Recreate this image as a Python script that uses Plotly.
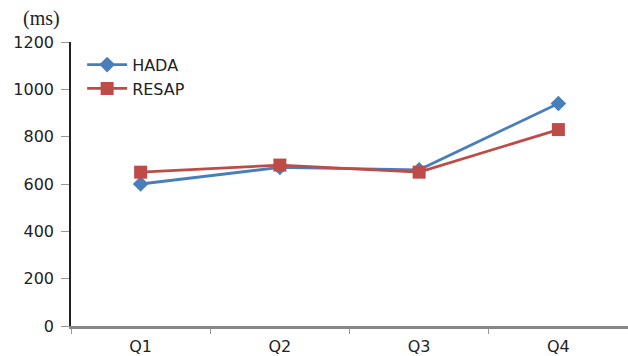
import plotly.graph_objects as go

quarters = ["Q1", "Q2", "Q3", "Q4"]
hada = [600, 670, 660, 940]
resap = [650, 680, 650, 830]
y_ticks = [0, 200, 400, 600, 800, 1000, 1200]

fig = go.Figure()
fig.add_trace(go.Scatter(
    x=quarters, y=hada, name="HADA", mode="lines+markers",
    line=dict(color="#4a7ebb", width=2.8),
    marker=dict(symbol="diamond", size=12, color="#4a7ebb"),
))
fig.add_trace(go.Scatter(
    x=quarters, y=resap, name="RESAP", mode="lines+markers",
    line=dict(color="#be4b48", width=2.8),
    marker=dict(symbol="square", size=13, color="#be4b48"),
))

fig.update_layout(
    width=628, height=356,
    margin=dict(l=71, r=0, t=42, b=28),
    paper_bgcolor="white", plot_bgcolor="white",
    font=dict(family="DejaVu Sans", size=16, color="#222"),
    showlegend=True,
    legend=dict(x=0.02, y=0.98, xanchor="left", yanchor="top",
                bgcolor="rgba(0,0,0,0)", font=dict(size=16),
                itemwidth=40, tracegroupgap=0),
    annotations=[dict(
        text="(ms)", xref="paper", yref="paper",
        x=-30 / 557, y=1 + 24 / 286, xanchor="center", yanchor="middle",
        showarrow=False, font=dict(family="Liberation Serif", size=20, color="#222"),
    )],
)

fig.update_xaxes(
    type="category", range=[-0.5, 3.5],
    showline=True, linecolor="#888", linewidth=2.5,
    ticks="outside", tickson="boundaries", ticklen=5, tickcolor="#999",
    ticklabelstandoff=4,
    showgrid=False, zeroline=False, tickfont=dict(size=16),
)
fig.update_yaxes(
    range=[0, 1200], tickvals=y_ticks,
    showline=True, linecolor="#222", linewidth=1.5,
    ticks="outside", ticklen=8, tickcolor="#999",
    ticklabelstandoff=4,
    showgrid=False, zeroline=False, tickfont=dict(size=16),
)

fig.write_html("out.html")
